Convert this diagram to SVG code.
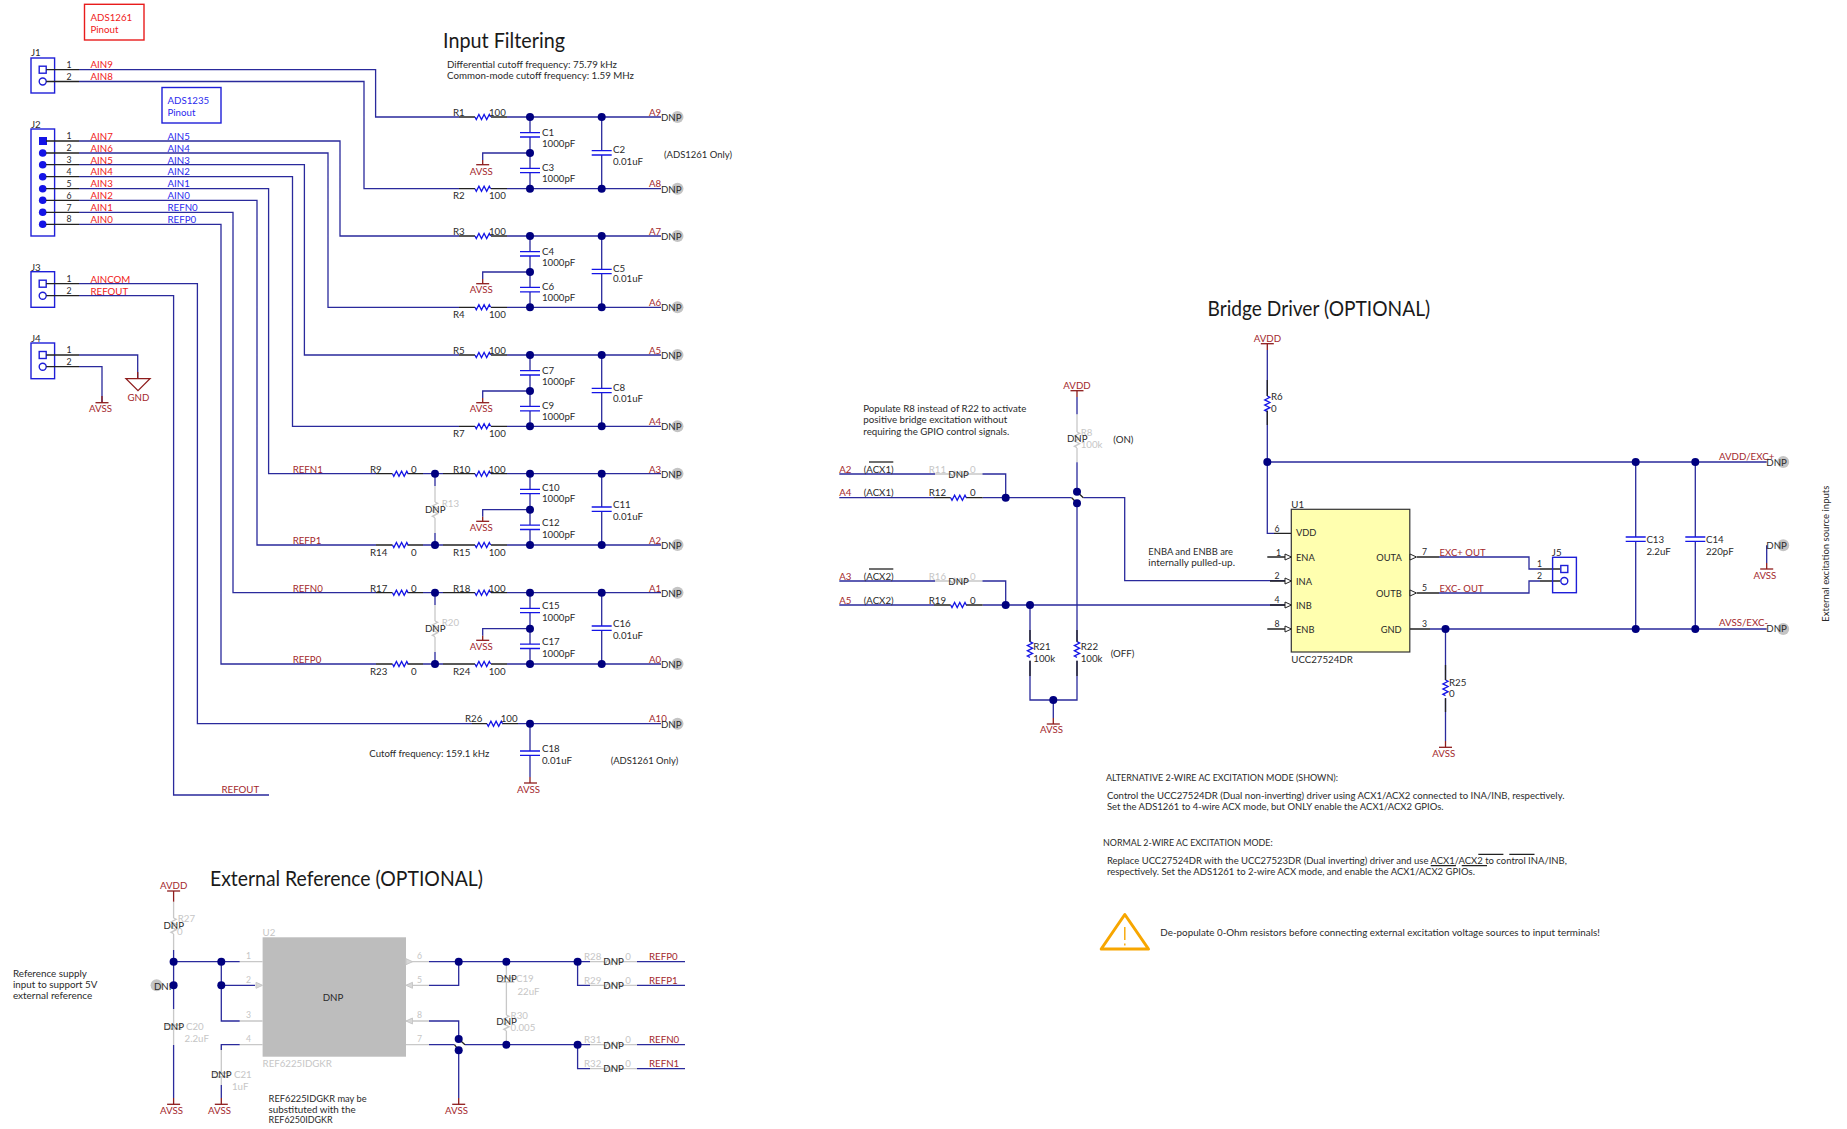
<svg xmlns="http://www.w3.org/2000/svg" width="1847" height="1129" viewBox="0 0 1847 1129">
<style>
text{font-family:Lato,"Liberation Sans",sans-serif;font-size:9.7px;fill:#2a2a2a}
.n{fill:#a3282c}.g{fill:#c6c6c6}.rd{fill:#f02020}.bl{fill:#2a2aee}.k{font-size:8.7px}.i{font-size:9.3px}
.h{font-size:22px;fill:#1a1a1a}
.w,.s,.y,.d,.c,.pk{fill:none;stroke-width:1.3}
.w{stroke:#2a2a9c}.s{stroke:#222}.y{stroke:#c8c8c8}.d{stroke:#8e1c1c}.c{stroke:#1414e6}
.pk{stroke:#1e1ed8;stroke-width:1.4}
.j{fill:#00007f}.dn{fill:#c4c4c4}
</style>
<defs>
<path id="rh" class="c" d="M0 0l1.3 2.6 2.6-5.2 2.6 5.2 2.6-5.2 2.6 5.2 2.6-5.2 1.3 2.6"/>
<path id="rv" class="c" d="M0 0l2.6 1.3-5.2 2.6 5.2 2.6-5.2 2.6 5.2 2.6-5.2 2.6 2.6 1.3"/>
<path id="rhg" class="y" d="M0 0l1.3 2.6 2.6-5.2 2.6 5.2 2.6-5.2 2.6 5.2 2.6-5.2 1.3 2.6"/>
<path id="rvg" class="y" d="M0 0l2.6 1.3-5.2 2.6 5.2 2.6-5.2 2.6 5.2 2.6-5.2 2.6 2.6 1.3"/>
<path id="capv" class="c" d="M-10 -2.2h20M-10 2.2h20"/>
<path id="capg" class="y" d="M-8 -2h16M-8 2h16"/>
<path id="bar" class="d" d="M-6.5 0h13"/>
<path id="tri" d="M0-3L6.5 0 0 3Z" fill="#fff" stroke="#222" stroke-width="1"/>
<path id="trg" d="M0-3L6.5 0 0 3Z" fill="#d8d8d8" stroke="#c8c8c8" stroke-width="1"/>
<path id="trl" d="M6.5-3L0 0 6.5 3Z" fill="#d8d8d8" stroke="#c8c8c8" stroke-width="1"/>
<circle id="jn" class="j" r="4"/>
<circle id="dc" class="dn" r="6"/>
</defs>

<g id="connectors">
<path class="w" d="M79 69.7H375.6V117H459M79 81.5H364V188.7H459"/>
<path class="w" d="M79 141H340V236H459M79 153H328V307.3H459M79 164.7H304.4V355H459M79 176.7H292.5V426.3H459M79 188.7H268.6V473.7H376M79 200.3H257V545H376M79 212.3H233V592.7H376M79 224.3H221V664H376"/>
<path class="w" d="M79 283.7H197.4V723.7H472M79 295.7H173.6V795H269"/>
<path class="w" d="M79 355H137.7V378.7M79 366.7H102V402"/>
<path class="w" d="M423 473.7H443M423 545H443M423 592.7H443M423 664H443"/>
<path class="w" d="M507 117H661M507 188.7H661M507 236H661M507 307.3H661M507 355H661M507 426.3H661M507 473.7H661M507 545H661M507 592.7H661M507 664H661M518 723.7H661"/>
<path class="w" d="M530 117V132.7M530 137V168.3M530 172.7V188.7M601.7 117V150.7M601.7 155V188.7M530 236V251.6M530 256V287.3M530 292V307.3M601.7 236V269.3M601.7 273.6V307.3M530 355V370.6M530 375V406.3M530 411V426.3M601.7 355V388.3M601.7 392.6V426.3M530 473.7V489.3M530 493.7V525M530 529.7V545M601.7 473.7V507M601.7 511.3V545M530 592.7V608.3M530 612.7V644M530 648.7V664M601.7 592.7V626M601.7 630.3V664M530 723.7V751M530 755.3V777"/>
<path class="w" d="M530 153H482.7V160M530 272H482.7V279M530 391H482.7V398M530 509.7H482.7V516.7M530 628.7H482.7V635.7"/>
<path class="w" d="M435 473.7V486M435 533V545M435 592.7V605M435 652V664"/>
<path class="y" d="M435 486V502M435 518V533M435 605V621M435 637V652"/>

<path class="y" d="M173.6 901.7V918M173.6 934V950M173.6 1009V1045M239.7 961.7H262.6M239.7 1021H262.6M239.7 1044.7H262.6M406 961.7H429M406 985.3H429M406 1021H429M406 1044.7H429M506.4 961.7V978M506.4 982V1015M506.4 1031V1044.7M221.3 1044.7V1073M221.3 1077V1085M590 961.7H604M620 961.7H637M590 985.3H604M620 985.3H637M590 1044.7H604M620 1044.7H637M590 1068.7H604M620 1068.7H637"/>
<path class="w" d="M173.6 950V1009M173.6 1045V1098M173.6 961.7H239.7M221.3 961.7V1021H239.7M221.3 985.3H255M239.7 1044.7H221.3V1050M221.3 1085V1098M429 961.7H590M429 985.3H458.7V961.7M429 1021H458.7V1039M429 1044.7H454.5M465 1044.7H590M458.7 1050.3V1098M577.6 961.7V985.3H590M577.6 1044.7V1068.7H590M637 961.7H685M637 985.3H685M637 1044.7H685M637 1068.7H685"/>
<path class="s" d="M454.5 1044.7L458.7 1050.3M458.7 1039L465 1044.7"/>

<path class="w" d="M839.3 474H935M982.3 474H1005.7V497.7M839.3 497.7H934M982.7 497.7H1071.7M1083.3 497.7H1124.7V580.7H1285M839.3 605H934M982.7 605H1285M839.3 581H935M982.3 581H1005.7V605"/>
<path class="y" d="M935 474H951M966 474H982.3M935 581H951M966 581H982.3M1077 414.3V432M1077 448V462.3"/>
<path class="w" d="M1077 397V414.3M1077 462.3V491.7M1077 503.3V641.7M1077 660.7V700H1030V660.7M1030 605V641.7M1053.3 700V718"/>
<path class="s" d="M1071.7 497.7L1077 503.3M1077 491.7L1083.3 497.7"/>

<path class="w" d="M1267.3 350V396M1267.3 410.7V533.3H1274M1267.3 462H1766.7M1635.7 462V537M1635.7 541.3V629M1695.3 462V537M1695.3 541.3V629M1430 629H1766.7M1445.5 629V680M1445.5 698.3V741M1439 557H1529V569H1540M1439 593H1529V581H1540M1766.7 545.3V563"/>
<path class="s" d="M1274 533.3H1291.3M1267.3 557H1285M1270 581H1285M1270 605H1285M1267.3 629H1285M1417 557H1439M1417 593H1439M1410 629H1430M1540 569H1560M1540 581H1560"/>
</g>

<g id="J1"><rect class="pk" x="31" y="58" width="23.6" height="35"/><rect class="pk" x="39.2" y="66.2" width="7" height="7"/><circle class="pk" cx="42.7" cy="81.5" r="3.5"/><path class="s" d="M46.2 69.7H79M46.2 81.5H79"/><text x="31" y="56">J1</text><text class="k" x="66.5" y="67.5">1</text><text class="k" x="66.5" y="79.5">2</text><text class="rd" x="90.5" y="68">AIN9</text><text class="rd" x="90.5" y="80">AIN8</text></g>
<g id="pinout1261"><rect x="84.5" y="4.3" width="59.5" height="35.7" fill="none" stroke="#e81c1c" stroke-width="1.4"/><text class="rd" x="90.5" y="21">ADS1261</text><text class="rd" x="90.5" y="33">Pinout</text></g>
<g id="pinout1235"><rect class="pk" x="162" y="87.5" width="59" height="35.5"/><text class="bl" x="167.5" y="104">ADS1235</text><text class="bl" x="167.5" y="116">Pinout</text></g>
<g id="J2"><rect class="pk" x="31" y="129" width="23.6" height="107"/><rect x="39" y="137" width="8" height="8" fill="#1414e6"/><g fill="#1414e6"><circle cx="42.7" cy="153" r="3.8"/><circle cx="42.7" cy="164.7" r="3.8"/><circle cx="42.7" cy="176.7" r="3.8"/><circle cx="42.7" cy="188.7" r="3.8"/><circle cx="42.7" cy="200.3" r="3.8"/><circle cx="42.7" cy="212.3" r="3.8"/><circle cx="42.7" cy="224.3" r="3.8"/></g>
<path class="s" d="M46 141H79M46 153H79M46 164.7H79M46 176.7H79M46 188.7H79M46 200.3H79M46 212.3H79M46 224.3H79"/><text x="31" y="128">J2</text>
<text class="k" x="66.5" y="139">1</text><text class="k" x="66.5" y="151">2</text><text class="k" x="66.5" y="163">3</text><text class="k" x="66.5" y="175">4</text><text class="k" x="66.5" y="187">5</text><text class="k" x="66.5" y="199">6</text><text class="k" x="66.5" y="211">7</text><text class="k" x="66.5" y="222">8</text>
<text class="rd" x="90.5" y="140">AIN7</text><text class="rd" x="90.5" y="152">AIN6</text><text class="rd" x="90.5" y="164">AIN5</text><text class="rd" x="90.5" y="175">AIN4</text><text class="rd" x="90.5" y="187">AIN3</text><text class="rd" x="90.5" y="199">AIN2</text><text class="rd" x="90.5" y="211">AIN1</text><text class="rd" x="90.5" y="223">AIN0</text>
<text class="bl" x="167.5" y="140">AIN5</text><text class="bl" x="167.5" y="152">AIN4</text><text class="bl" x="167.5" y="164">AIN3</text><text class="bl" x="167.5" y="175">AIN2</text><text class="bl" x="167.5" y="187">AIN1</text><text class="bl" x="167.5" y="199">AIN0</text><text class="bl" x="167.5" y="211">REFN0</text><text class="bl" x="167.5" y="223">REFP0</text></g>
<g id="J3"><rect class="pk" x="31" y="271.7" width="23.6" height="35.6"/><rect class="pk" x="39.2" y="280.2" width="7" height="7"/><circle class="pk" cx="42.7" cy="295.7" r="3.5"/><path class="s" d="M46.2 283.7H79M46.2 295.7H79"/><text x="31" y="271">J3</text><text class="k" x="66.5" y="282">1</text><text class="k" x="66.5" y="294">2</text><text class="rd" x="90.5" y="283">AINCOM</text><text class="rd" x="90.5" y="295">REFOUT</text></g>
<g id="J4"><rect class="pk" x="31" y="343" width="23.6" height="35.7"/><rect class="pk" x="39.2" y="351.5" width="7" height="7"/><circle class="pk" cx="42.7" cy="366.7" r="3.5"/><path class="s" d="M46.2 355H79M46.2 366.7H79"/><text x="31" y="342">J4</text><text class="k" x="66.5" y="353">1</text><text class="k" x="66.5" y="365">2</text></g>
<g id="GND"><path class="d" d="M126 378.7H150L138 390.7ZM137.7 372V378.7"/><text class="n" x="127.5" y="401">GND</text></g>
<g id="AVSS-J4"><path class="d" d="M102 396V402.7"/><use href="#bar" x="102" y="402.7"/><text class="n" x="89" y="412">AVSS</text></g>

<g id="titleInput"><text class="h" x="443" y="47.7" textLength="122" lengthAdjust="spacingAndGlyphs">Input Filtering</text><text x="447" y="67.7" textLength="170" lengthAdjust="spacingAndGlyphs">Differential cutoff frequency: 75.79 kHz</text><text x="447" y="78.7" textLength="187" lengthAdjust="spacingAndGlyphs">Common-mode cutoff frequency: 1.59 MHz</text></g>

<g id="R1"><path class="s" d="M459 117H475M491 117H507"/><use href="#rh" x="475" y="117"/><text x="453" y="115.5">R1</text><text x="489" y="115.5">100</text></g>
<g id="R2"><path class="s" d="M459 188.7H475M491 188.7H507"/><use href="#rh" x="475" y="188.7"/><text x="453" y="199">R2</text><text x="489" y="199">100</text></g>
<g id="R3"><path class="s" d="M459 236H475M491 236H507"/><use href="#rh" x="475" y="236"/><text x="453" y="234.5">R3</text><text x="489" y="234.5">100</text></g>
<g id="R4"><path class="s" d="M459 307.3H475M491 307.3H507"/><use href="#rh" x="475" y="307.3"/><text x="453" y="318">R4</text><text x="489" y="318">100</text></g>
<g id="R5"><path class="s" d="M459 355H475M491 355H507"/><use href="#rh" x="475" y="355"/><text x="453" y="353.5">R5</text><text x="489" y="353.5">100</text></g>
<g id="R7"><path class="s" d="M459 426.3H475M491 426.3H507"/><use href="#rh" x="475" y="426.3"/><text x="453" y="437">R7</text><text x="489" y="437">100</text></g>
<g id="R9"><path class="s" d="M376 473.7H392.5M407.5 473.7H423"/><use href="#rh" x="392.5" y="473.7"/><text x="370" y="472.5">R9</text><text x="411" y="472.5">0</text><text class="n" x="292.7" y="472.5">REFN1</text></g>
<g id="R10"><path class="s" d="M443 473.7H475M491 473.7H507"/><use href="#rh" x="475" y="473.7"/><text x="453" y="472.5">R10</text><text x="488.7" y="472.5">100</text></g>
<g id="R13"><use href="#rvg" x="435" y="502"/><text class="g" x="441.7" y="507">R13</text><text x="425" y="513">DNP</text></g>
<g id="R14"><path class="s" d="M376 545H392.5M407.5 545H423"/><use href="#rh" x="392.5" y="545"/><text x="370" y="556">R14</text><text x="411" y="556">0</text><text class="n" x="292.7" y="543.5">REFP1</text></g>
<g id="R15"><path class="s" d="M443 545H475M491 545H507"/><use href="#rh" x="475" y="545"/><text x="453" y="556">R15</text><text x="488.7" y="556">100</text></g>
<g id="R17"><path class="s" d="M376 592.7H392.5M407.5 592.7H423"/><use href="#rh" x="392.5" y="592.7"/><text x="370" y="591.5">R17</text><text x="411" y="591.5">0</text><text class="n" x="292.7" y="591.5">REFN0</text></g>
<g id="R18"><path class="s" d="M443 592.7H475M491 592.7H507"/><use href="#rh" x="475" y="592.7"/><text x="453" y="591.5">R18</text><text x="488.7" y="591.5">100</text></g>
<g id="R20"><use href="#rvg" x="435" y="621"/><text class="g" x="441.7" y="626">R20</text><text x="425" y="632">DNP</text></g>
<g id="R23"><path class="s" d="M376 664H392.5M407.5 664H423"/><use href="#rh" x="392.5" y="664"/><text x="370" y="675">R23</text><text x="411" y="675">0</text><text class="n" x="292.7" y="662.5">REFP0</text></g>
<g id="R24"><path class="s" d="M443 664H475M491 664H507"/><use href="#rh" x="475" y="664"/><text x="453" y="675">R24</text><text x="488.7" y="675">100</text></g>
<g id="R26"><path class="s" d="M472 723.7H487M502 723.7H518"/><use href="#rh" x="487" y="723.7"/><text x="465" y="722">R26</text><text x="500.7" y="722">100</text></g>

<g id="C1"><use href="#capv" x="530" y="134.8"/><text x="542" y="136">C1</text><text x="542" y="147">1000pF</text></g>
<g id="C3"><use href="#capv" x="530" y="170.5"/><text x="542" y="171">C3</text><text x="542" y="182">1000pF</text></g>
<g id="C2"><use href="#capv" x="601.7" y="152.8"/><text x="613" y="153">C2</text><text x="613" y="164.5">0.01uF</text></g>
<g id="C4"><use href="#capv" x="530" y="253.8"/><text x="542" y="255">C4</text><text x="542" y="266">1000pF</text></g>
<g id="C6"><use href="#capv" x="530" y="289.6"/><text x="542" y="290">C6</text><text x="542" y="301">1000pF</text></g>
<g id="C5"><use href="#capv" x="601.7" y="271.5"/><text x="613" y="272">C5</text><text x="613" y="282">0.01uF</text></g>
<g id="C7"><use href="#capv" x="530" y="372.8"/><text x="542" y="374">C7</text><text x="542" y="385">1000pF</text></g>
<g id="C9"><use href="#capv" x="530" y="408.6"/><text x="542" y="409">C9</text><text x="542" y="420">1000pF</text></g>
<g id="C8"><use href="#capv" x="601.7" y="390.5"/><text x="613" y="391">C8</text><text x="613" y="402">0.01uF</text></g>
<g id="C10"><use href="#capv" x="530" y="491.5"/><text x="542" y="491">C10</text><text x="542" y="502">1000pF</text></g>
<g id="C12"><use href="#capv" x="530" y="527.3"/><text x="542" y="526">C12</text><text x="542" y="537.7">1000pF</text></g>
<g id="C11"><use href="#capv" x="601.7" y="509.2"/><text x="613" y="508">C11</text><text x="613" y="519.7">0.01uF</text></g>
<g id="C15"><use href="#capv" x="530" y="610.5"/><text x="542" y="609">C15</text><text x="542" y="621">1000pF</text></g>
<g id="C17"><use href="#capv" x="530" y="646.3"/><text x="542" y="645">C17</text><text x="542" y="657">1000pF</text></g>
<g id="C16"><use href="#capv" x="601.7" y="628.2"/><text x="613" y="627">C16</text><text x="613" y="639">0.01uF</text></g>
<g id="C18"><use href="#capv" x="530" y="753.2"/><text x="542" y="752">C18</text><text x="542" y="763.7">0.01uF</text></g>

<g id="junctions1">
<use href="#jn" x="530" y="117"/><use href="#jn" x="601.7" y="117"/><use href="#jn" x="530" y="153"/><use href="#jn" x="530" y="188.7"/><use href="#jn" x="601.7" y="188.7"/>
<use href="#jn" x="530" y="236"/><use href="#jn" x="601.7" y="236"/><use href="#jn" x="530" y="272"/><use href="#jn" x="530" y="307.3"/><use href="#jn" x="601.7" y="307.3"/>
<use href="#jn" x="530" y="355"/><use href="#jn" x="601.7" y="355"/><use href="#jn" x="530" y="391"/><use href="#jn" x="530" y="426.3"/><use href="#jn" x="601.7" y="426.3"/>
<use href="#jn" x="435" y="473.7"/><use href="#jn" x="530" y="473.7"/><use href="#jn" x="601.7" y="473.7"/><use href="#jn" x="530" y="509.7"/><use href="#jn" x="435" y="545"/><use href="#jn" x="530" y="545"/><use href="#jn" x="601.7" y="545"/>
<use href="#jn" x="435" y="592.7"/><use href="#jn" x="530" y="592.7"/><use href="#jn" x="601.7" y="592.7"/><use href="#jn" x="530" y="628.7"/><use href="#jn" x="435" y="664"/><use href="#jn" x="530" y="664"/><use href="#jn" x="601.7" y="664"/><use href="#jn" x="530" y="723.7"/>
</g>
<g id="AVSS-filter">
<path class="d" d="M482.7 160V164.7M482.7 279V283.7M482.7 398V402.7M482.7 516.7V521.3M482.7 635.7V640.3M530 777V783"/>
<use href="#bar" x="482.7" y="164.7"/><text class="n" x="469.7" y="175">AVSS</text>
<use href="#bar" x="482.7" y="283.7"/><text class="n" x="469.7" y="293">AVSS</text>
<use href="#bar" x="482.7" y="402.7"/><text class="n" x="469.7" y="412">AVSS</text>
<use href="#bar" x="482.7" y="521.3"/><text class="n" x="469.7" y="530.7">AVSS</text>
<use href="#bar" x="482.7" y="640.3"/><text class="n" x="469.7" y="649.7">AVSS</text>
<use href="#bar" x="530.5" y="783"/><text class="n" x="517" y="792.7">AVSS</text>
</g>
<g id="testpoints1">
<use href="#dc" x="677.5" y="117"/><use href="#dc" x="677.5" y="188.7"/><use href="#dc" x="677.5" y="236"/><use href="#dc" x="677.5" y="307.3"/><use href="#dc" x="677.5" y="355"/><use href="#dc" x="677.5" y="426.3"/><use href="#dc" x="677.5" y="473.7"/><use href="#dc" x="677.5" y="545"/><use href="#dc" x="677.5" y="592.7"/><use href="#dc" x="677.5" y="664"/><use href="#dc" x="677.5" y="723.7"/>
<text class="n" x="649" y="115.5">A9</text><text x="661" y="121">DNP</text>
<text class="n" x="649" y="187">A8</text><text x="661" y="192.5">DNP</text>
<text class="n" x="649" y="234.5">A7</text><text x="661" y="240">DNP</text>
<text class="n" x="649" y="305.5">A6</text><text x="661" y="311">DNP</text>
<text class="n" x="649" y="353.5">A5</text><text x="661" y="359">DNP</text>
<text class="n" x="649" y="424.5">A4</text><text x="661" y="430">DNP</text>
<text class="n" x="649" y="472.5">A3</text><text x="661" y="478">DNP</text>
<text class="n" x="649" y="543.5">A2</text><text x="661" y="549">DNP</text>
<text class="n" x="649" y="591.5">A1</text><text x="661" y="597">DNP</text>
<text class="n" x="649" y="662.5">A0</text><text x="661" y="668">DNP</text>
<text class="n" x="649" y="722">A10</text><text x="661" y="728">DNP</text>
</g>
<g id="notes1"><text x="664" y="158" textLength="68" lengthAdjust="spacingAndGlyphs">(ADS1261 Only)</text><text x="610.7" y="763.7" textLength="67.5" lengthAdjust="spacingAndGlyphs">(ADS1261 Only)</text><text x="369.3" y="756.7" textLength="120" lengthAdjust="spacingAndGlyphs">Cutoff frequency: 159.1 kHz</text><text class="n" x="221.5" y="793">REFOUT</text></g>

<g id="titleExt"><text class="h" x="210" y="886" textLength="273" lengthAdjust="spacingAndGlyphs">External Reference (OPTIONAL)</text></g>
<g id="AVDD-ref"><path class="d" d="M173.6 891V901.7"/><use href="#bar" x="173.6" y="891"/><text class="n" x="160" y="889">AVDD</text></g>
<g id="R27"><use href="#rvg" x="173.6" y="918"/><text class="g" x="177.7" y="922">R27</text><text x="163.5" y="928.7">DNP</text><text class="g" x="177" y="934.7">0</text></g>
<g id="C20"><use href="#capg" x="173.6" y="1027"/><text x="163.5" y="1030">DNP</text><text class="g" x="186" y="1029.7">C20</text><text class="g" x="184.6" y="1041.7">2.2uF</text></g>
<g id="C21"><use href="#capg" x="221.3" y="1075"/><text x="211" y="1077.7">DNP</text><text class="g" x="234" y="1077.7">C21</text><text class="g" x="232" y="1090">1uF</text></g>
<g id="TPref"><use href="#dc" x="156.6" y="985.3"/><text x="154" y="989.5">DNP</text></g>
<g id="U2"><rect x="262.6" y="937.3" width="143.4" height="119.4" fill="#bdbdbd"/><text class="g" x="262.6" y="935.5">U2</text><text class="g" x="262.6" y="1066.7">REF6225IDGKR</text><text x="333" y="1000.7" text-anchor="middle">DNP</text>
<use href="#trg" x="256" y="985.3"/><use href="#trg" x="406" y="961.7"/><use href="#trl" x="406" y="985.3"/><use href="#trl" x="406" y="1021"/>
<g class="g"><text class="g k" x="246" y="958.5">1</text><text class="g k" x="246" y="982.5">2</text><text class="g k" x="246" y="1018">3</text><text class="g k" x="246" y="1041.5">4</text><text class="g k" x="417" y="958.5">6</text><text class="g k" x="417" y="982.5">5</text><text class="g k" x="417" y="1018">8</text><text class="g k" x="417" y="1041.5">7</text></g></g>
<g id="C19"><use href="#capg" x="506.4" y="980"/><text x="496.3" y="982.3">DNP</text><text class="g" x="516" y="982.3">C19</text><text class="g" x="517.4" y="995">22uF</text></g>
<g id="R30"><use href="#rvg" x="506.4" y="1015"/><text class="g" x="510.6" y="1018.7">R30</text><text x="496.3" y="1024.7">DNP</text><text class="g" x="510.6" y="1030.5">0.005</text></g>
<g id="R28"><use href="#rhg" x="604" y="961.7"/><text class="g" x="584" y="959.5">R28</text><text x="603.3" y="965">DNP</text><text class="g" x="625.3" y="959.5">0</text><text class="n" x="649" y="959.7">REFP0</text></g>
<g id="R29"><use href="#rhg" x="604" y="985.3"/><text class="g" x="584" y="983.5">R29</text><text x="603.3" y="989">DNP</text><text class="g" x="625.3" y="983.5">0</text><text class="n" x="649" y="983.7">REFP1</text></g>
<g id="R31"><use href="#rhg" x="604" y="1044.7"/><text class="g" x="584" y="1043">R31</text><text x="603.3" y="1048.5">DNP</text><text class="g" x="625.3" y="1043">0</text><text class="n" x="649" y="1043">REFN0</text></g>
<g id="R32"><use href="#rhg" x="604" y="1068.7"/><text class="g" x="584" y="1067">R32</text><text x="603.3" y="1072">DNP</text><text class="g" x="625.3" y="1067">0</text><text class="n" x="649" y="1067">REFN1</text></g>
<g id="AVSS-ref"><path class="d" d="M173.6 1098V1104.3M221.3 1098V1104.3M458.7 1098V1104.3"/><use href="#bar" x="173.6" y="1104.3"/><use href="#bar" x="221.3" y="1104.3"/><use href="#bar" x="458.7" y="1104.3"/><text class="n" x="160" y="1113.5">AVSS</text><text class="n" x="208" y="1113.5">AVSS</text><text class="n" x="445" y="1113.5">AVSS</text></g>
<g id="junctions2"><use href="#jn" x="173.6" y="961.7"/><use href="#jn" x="221.3" y="961.7"/><use href="#jn" x="173.6" y="985.3"/><use href="#jn" x="221.3" y="985.3"/><use href="#jn" x="458.7" y="961.7"/><use href="#jn" x="506.4" y="961.7"/><use href="#jn" x="577.6" y="961.7"/><use href="#jn" x="458.7" y="1039"/><use href="#jn" x="458.7" y="1050.3"/><use href="#jn" x="506.4" y="1044.7"/><use href="#jn" x="577.6" y="1044.7"/></g>
<g id="notes2"><text x="12.9" y="976.7" textLength="74" lengthAdjust="spacingAndGlyphs">Reference supply</text><text x="12.9" y="987.7" textLength="84.5" lengthAdjust="spacingAndGlyphs">input to support 5V</text><text x="12.9" y="998.7" textLength="79.4" lengthAdjust="spacingAndGlyphs">external reference</text><text x="268.6" y="1101.7" textLength="98" lengthAdjust="spacingAndGlyphs">REF6225IDGKR may be</text><text x="268.6" y="1112.7" textLength="87" lengthAdjust="spacingAndGlyphs">substituted with the</text><text x="268.6" y="1123.3" textLength="64" lengthAdjust="spacingAndGlyphs">REF6250IDGKR</text></g>

<g id="titleBridge"><text class="h" x="1207.5" y="315.7" textLength="222.6" lengthAdjust="spacingAndGlyphs">Bridge Driver (OPTIONAL)</text></g>
<g id="AVDD-top"><path class="d" d="M1267.3 343.7V350"/><use href="#bar" x="1267.3" y="343.7"/><text class="n" x="1253.7" y="342">AVDD</text></g>
<g id="R6"><use href="#rv" x="1267.3" y="396"/><path class="s" d="M1267.3 380V396M1267.3 410.7V425"/><text x="1271" y="400">R6</text><text x="1271" y="412">0</text></g>
<g id="AVDD-R8"><path class="d" d="M1077 390.7V397"/><use href="#bar" x="1077" y="390.7"/><text class="n" x="1063.3" y="389.3">AVDD</text></g>
<g id="R8"><use href="#rvg" x="1077" y="432"/><text class="g" x="1080.7" y="436">R8</text><text class="g" x="1080.7" y="448">100k</text><text x="1067" y="441.7">DNP</text><text x="1113.3" y="443.3">(ON)</text></g>
<g id="noteR8"><text x="863.3" y="412" textLength="163" lengthAdjust="spacingAndGlyphs">Populate R8 instead of R22 to activate</text><text x="863.3" y="423" textLength="144" lengthAdjust="spacingAndGlyphs">positive bridge excitation without</text><text x="863.3" y="435" textLength="146" lengthAdjust="spacingAndGlyphs">requiring the GPIO control signals.</text></g>
<g id="R11"><use href="#rhg" x="951" y="474"/><text class="n" x="839.3" y="472.7">A2</text><text x="863.7" y="472.7">(ACX1)</text><path class="s" d="M869 462H893.3"/><text class="g" x="928.7" y="472.7">R11</text><text x="948.3" y="478">DNP</text><text class="g" x="970" y="472.7">0</text></g>
<g id="R12"><path class="s" d="M934 497.7H950.7M966 497.7H982.7"/><use href="#rh" x="950.7" y="497.7"/><text class="n" x="839.3" y="495.7">A4</text><text x="863.7" y="495.7">(ACX1)</text><text x="928.7" y="495.7">R12</text><text x="970" y="495.7">0</text></g>
<g id="R16"><use href="#rhg" x="951" y="581"/><text class="n" x="839.3" y="580">A3</text><text x="863.7" y="580">(ACX2)</text><path class="s" d="M869 569H893.3"/><text class="g" x="928.7" y="580">R16</text><text x="948.3" y="585">DNP</text><text class="g" x="970" y="580">0</text></g>
<g id="R19"><path class="s" d="M934 605H950.7M966 605H982.7"/><use href="#rh" x="950.7" y="605"/><text class="n" x="839.3" y="604">A5</text><text x="863.7" y="604">(ACX2)</text><text x="928.7" y="604">R19</text><text x="970" y="604">0</text></g>
<g id="R21"><use href="#rv" x="1030" y="641.7"/><path class="s" d="M1030 630V641.7M1030 660.7V676"/><text x="1033.3" y="650">R21</text><text x="1033.3" y="662">100k</text></g>
<g id="R22"><use href="#rv" x="1077" y="641.7"/><path class="s" d="M1077 630V641.7M1077 660.7V676"/><text x="1080.7" y="650">R22</text><text x="1080.7" y="662">100k</text><text x="1110.7" y="657.3">(OFF)</text></g>
<g id="AVSS-R"><path class="d" d="M1053.3 718V724"/><use href="#bar" x="1053.3" y="724"/><text class="n" x="1040" y="733">AVSS</text></g>
<g id="noteEN"><text x="1148.3" y="555" textLength="84.7" lengthAdjust="spacingAndGlyphs">ENBA and ENBB are</text><text x="1148.3" y="566" textLength="86.7" lengthAdjust="spacingAndGlyphs">internally pulled-up.</text></g>
<g id="U1"><rect x="1291.3" y="509.3" width="118.5" height="142.7" fill="#ffffaf" stroke="#333" stroke-width="1.2"/><text x="1291.3" y="507.5">U1</text><text x="1291.3" y="662.7">UCC27524DR</text>
<use href="#tri" x="1285" y="557"/><use href="#tri" x="1285" y="581"/><use href="#tri" x="1285" y="605"/><use href="#tri" x="1285" y="629"/><use href="#tri" x="1410" y="557"/><use href="#tri" x="1410" y="593"/>
<text class="i" x="1296" y="536">VDD</text><text class="i" x="1296" y="560.5">ENA</text><text class="i" x="1296" y="584.5">INA</text><text class="i" x="1296" y="608.5">INB</text><text class="i" x="1296" y="632.5">ENB</text>
<text class="i" x="1401.7" y="560.5" text-anchor="end">OUTA</text><text class="i" x="1401.7" y="596.5" text-anchor="end">OUTB</text><text class="i" x="1401.7" y="632.5" text-anchor="end">GND</text>
<text class="k" x="1274.5" y="531.5">6</text><text class="k" x="1276" y="555.5">1</text><text class="k" x="1274.5" y="579">2</text><text class="k" x="1274.5" y="603">4</text><text class="k" x="1274.5" y="627">8</text><text class="k" x="1422" y="554.5">7</text><text class="k" x="1422" y="590.5">5</text><text class="k" x="1422" y="626.5">3</text>
<text class="n" x="1439.6" y="556" textLength="46" lengthAdjust="spacingAndGlyphs">EXC+ OUT</text><text class="n" x="1439.6" y="592" textLength="44" lengthAdjust="spacingAndGlyphs">EXC- OUT</text></g>
<g id="J5"><rect class="pk" x="1552.6" y="557.3" width="23.8" height="35.4"/><rect class="pk" x="1560.8" y="565.5" width="7" height="7"/><circle class="pk" cx="1564.3" cy="581" r="3.5"/><text x="1551.8" y="555.5">J5</text><text class="k" x="1537" y="567">1</text><text class="k" x="1537" y="578.7">2</text></g>
<g id="C13"><use href="#capv" x="1635.7" y="539.2"/><text x="1646.4" y="542.7">C13</text><text x="1646.4" y="554.7">2.2uF</text></g>
<g id="C14"><use href="#capv" x="1695.3" y="539.2"/><text x="1706" y="542.7">C14</text><text x="1706" y="554.7">220pF</text></g>
<g id="R25"><use href="#rv" x="1445.5" y="680"/><path class="s" d="M1445.5 665V680M1445.5 698.3V712"/><text x="1449" y="685.7">R25</text><text x="1449" y="697">0</text></g>
<g id="AVSS-R25"><path class="d" d="M1445.5 741V747.3"/><use href="#bar" x="1445.5" y="747.3"/><text class="n" x="1432.3" y="756.7">AVSS</text></g>
<g id="junctions3"><use href="#jn" x="1005.7" y="497.7"/><use href="#jn" x="1077" y="491.7"/><use href="#jn" x="1077" y="503.3"/><use href="#jn" x="1005.7" y="605"/><use href="#jn" x="1030" y="605"/><use href="#jn" x="1053.3" y="700"/><use href="#jn" x="1267.3" y="462"/><use href="#jn" x="1635.7" y="462"/><use href="#jn" x="1695.3" y="462"/><use href="#jn" x="1445.5" y="629"/><use href="#jn" x="1635.7" y="629"/><use href="#jn" x="1695.3" y="629"/></g>
<g id="testpoints3"><use href="#dc" x="1783.2" y="462"/><use href="#dc" x="1783.2" y="545.3"/><use href="#dc" x="1783.2" y="629"/><text class="n" x="1719" y="460.3">AVDD/EXC+</text><text x="1766.3" y="465.5">DNP</text><text x="1766.3" y="549">DNP</text><text class="n" x="1719" y="626.3">AVSS/EXC-</text><text x="1766.3" y="632">DNP</text>
<path class="d" d="M1766.7 563V569"/><use href="#bar" x="1766.7" y="569"/><text class="n" x="1753.4" y="578.7">AVSS</text></g>
<g id="sideNote"><text transform="translate(1828.5 621.7) rotate(-90)" textLength="136" lengthAdjust="spacingAndGlyphs">External excitation source inputs</text></g>
<g id="notes3">
<text x="1105.9" y="780.7" textLength="232" lengthAdjust="spacingAndGlyphs">ALTERNATIVE 2-WIRE AC EXCITATION MODE (SHOWN):</text>
<text x="1106.9" y="798.7" textLength="457.6" lengthAdjust="spacingAndGlyphs">Control the UCC27524DR (Dual non-inverting) driver using ACX1/ACX2 connected to INA/INB, respectively.</text>
<text x="1106.9" y="809.7" textLength="336.6" lengthAdjust="spacingAndGlyphs">Set the ADS1261 to 4-wire ACX mode, but ONLY enable the ACX1/ACX2 GPIOs.</text>
<text x="1103" y="845.7" textLength="169.7" lengthAdjust="spacingAndGlyphs">NORMAL 2-WIRE AC EXCITATION MODE:</text>
<text x="1106.9" y="864" textLength="460" lengthAdjust="spacingAndGlyphs">Replace UCC27524DR with the UCC27523DR (Dual inverting) driver and use ACX1/ACX2 to control INA/INB,</text>
<text x="1106.9" y="874.7" textLength="368" lengthAdjust="spacingAndGlyphs">respectively. Set the ADS1261 to 2-wire ACX mode, and enable the ACX1/ACX2 GPIOs.</text>
<path class="s" d="M1478.3 854.3H1503.4M1509.3 854.3H1534.5M1430.7 865.7H1455.9M1461.7 865.7H1487"/>
<text x="1160.3" y="936" textLength="439.6" lengthAdjust="spacingAndGlyphs">De-populate 0-Ohm resistors before connecting external excitation voltage sources to input terminals!</text>
</g>
<g id="warning"><path d="M1124.8 914.5L1148.5 949H1101.2Z" fill="none" stroke="#f7a600" stroke-width="3" stroke-linejoin="round"/><path d="M1124.8 927V940M1124.8 943.5V945.5" stroke="#f7a600" stroke-width="1.4" fill="none"/></g>
</svg>
